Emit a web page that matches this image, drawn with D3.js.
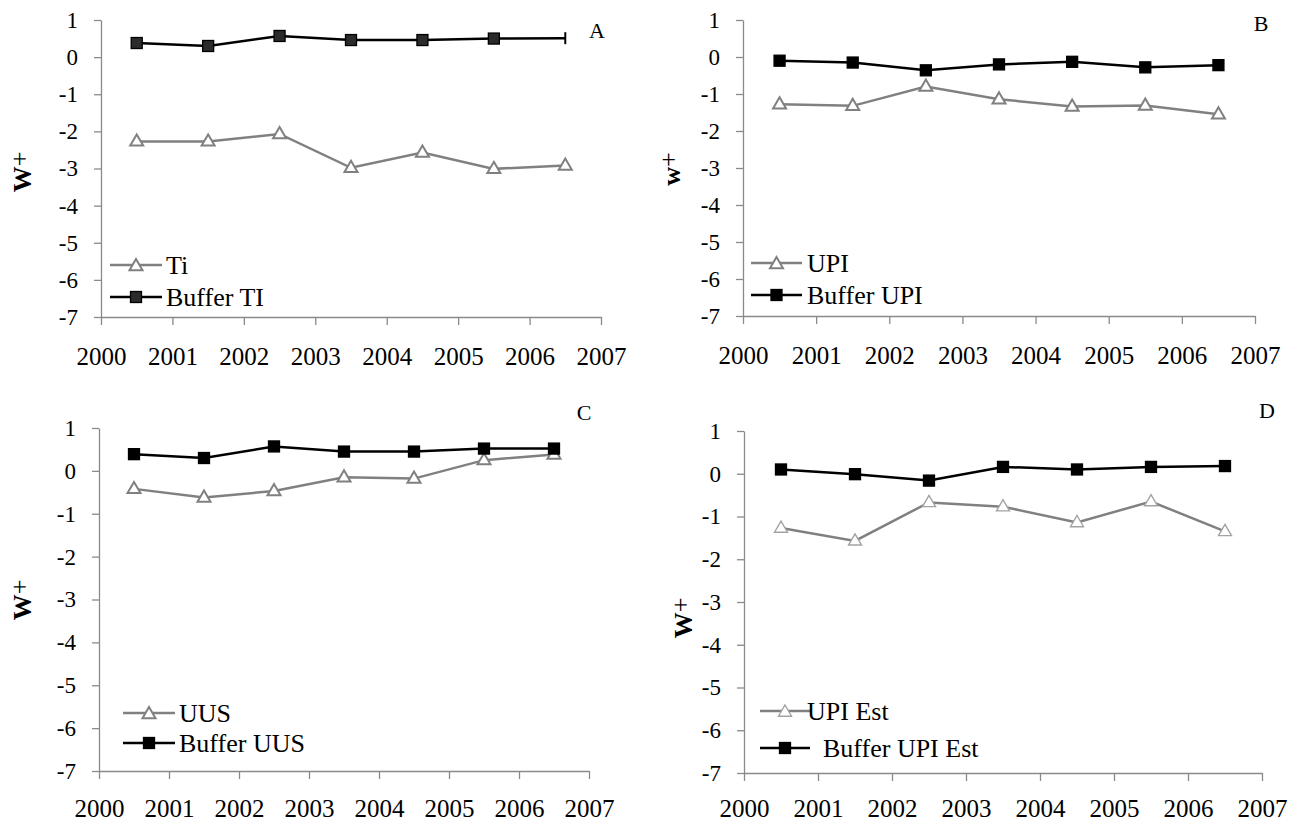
<!DOCTYPE html>
<html><head><meta charset="utf-8">
<script src="https://cdn.jsdelivr.net/npm/d3@7"></script>
<style>
body{margin:0;background:#fff}
svg text{font-family:"Liberation Serif","Times New Roman",serif;fill:#000}
</style>
</head><body>
<svg id="c" width="1305" height="823"></svg>
<script>
// ---------- DATA ----------
const yearTicks = [2000, 2001, 2002, 2003, 2004, 2005, 2006, 2007];
const pointYears = [2000, 2001, 2002, 2003, 2004, 2005, 2006]; // each value plotted mid-year
const yTicks = [1, 0, -1, -2, -3, -4, -5, -6, -7];

const tiValues          = [-2.27, -2.27, -2.07, -2.98, -2.57, -3.01, -2.92];
const bufferTiValues    = [0.38, 0.30, 0.57, 0.46, 0.46, 0.50, 0.51];
const bufferTiMarkers   = [true, true, true, true, true, true, false];

const upiValues         = [-1.28, -1.32, -0.80, -1.14, -1.34, -1.31, -1.55];
const bufferUpiValues   = [-0.10, -0.15, -0.36, -0.20, -0.13, -0.28, -0.22];

const uusValues         = [-0.42, -0.62, -0.47, -0.15, -0.18, 0.25, 0.38];
const bufferUusValues   = [0.39, 0.30, 0.57, 0.45, 0.45, 0.52, 0.52];

const upiEstValues       = [-1.27, -1.57, -0.67, -0.77, -1.14, -0.65, -1.35];
const bufferUpiEstValues = [0.10, -0.01, -0.16, 0.16, 0.10, 0.16, 0.18];

const panelLetters = ["A", "B", "C", "D"];
const yLabels = ["W", "w", "W", "W"];
const legendNames = [["Ti", "Buffer TI"], ["UPI", "Buffer UPI"], ["UUS", "Buffer UUS"], ["UPI Est", "Buffer UPI Est"]];

// ---------- LAYOUT ----------
const layouts = [
  {L:101, R:601, T:20, B:317, pad:22, letter:[597,30], ylab:[31,172], leg:{x0:110,x1:162,tx:[166,166],ty:[265,297]}, squareFill:"#2b2b2b", triStroke:"#808080", triW:2, tri:tiValues, buf:bufferTiValues, bufMarks:bufferTiMarkers},
  {L:743, R:1255, T:20, B:316, pad:22, letter:[1261,23], ylab:[680,169], leg:{x0:751,x1:802,tx:[807,807],ty:[263,295]}, squareFill:"#000", triStroke:"#808080", triW:2, tri:upiValues, buf:bufferUpiValues},
  {L:99, R:589, T:428, B:771, pad:20, letter:[584,412], ylab:[31,600], leg:{x0:123,x1:175,tx:[179,179],ty:[713,743]}, squareFill:"#000", triStroke:"#808080", triW:2, tri:uusValues, buf:bufferUusValues},
  {L:744, R:1262, T:431, B:773, pad:18, letter:[1267,410], ylab:[692,618], leg:{x0:760,x1:810,tx:[807,823],ty:[711,748]}, squareFill:"#000", triStroke:"#a3a3a3", triW:1.4, tri:upiEstValues, buf:bufferUpiEstValues}
];

const svg = d3.select("#c");
const axisColor = "#8a8a8a";
const triPath = "M0,-7L6.5,4.2L-6.5,4.2Z";
const SERIF = '"Liberation Serif","Times New Roman",serif';

function drawTri(g, cx, cy, lay) {
  g.append("path").attr("d", triPath).attr("transform", `translate(${cx},${cy})`)
    .attr("fill", "#fff").attr("stroke", lay.triStroke).attr("stroke-width", lay.triW).attr("stroke-linejoin", "miter");
}
function drawSq(g, cx, cy, lay) {
  g.append("rect").attr("x", cx - 5.5).attr("y", cy - 5.5).attr("width", 11).attr("height", 11)
    .attr("fill", lay.squareFill).attr("stroke", "#000").attr("stroke-width", 1.3);
}

layouts.forEach((lay, i) => {
  const g = svg.append("g");
  const x = d3.scaleLinear().domain([2000, 2007]).range([lay.L, lay.R]);
  const y = d3.scaleLinear().domain([-7, 1]).range([lay.B, lay.T]);

  // x axis
  const xa = g.append("g").attr("transform", `translate(0,${lay.B})`)
    .call(d3.axisBottom(x).tickValues(yearTicks).tickFormat(d => String(d)).tickSize(8).tickSizeOuter(0).tickPadding(lay.pad));
  xa.attr("font-family", null).attr("font-size", null);
  xa.select(".domain").attr("stroke", axisColor).attr("stroke-width", 1.3);
  xa.selectAll(".tick line").attr("stroke", axisColor).attr("stroke-width", 1.3);
  xa.selectAll("text").style("font-size", "25px").style("font-family", SERIF).attr("fill", "#000");

  // y axis
  const ya = g.append("g").attr("transform", `translate(${lay.L},0)`)
    .call(d3.axisLeft(y).tickValues(yTicks).tickFormat(d => String(d)).tickSize(7).tickSizeOuter(0).tickPadding(16));
  ya.attr("font-family", null).attr("font-size", null);
  ya.select(".domain").attr("stroke", axisColor).attr("stroke-width", 1.3);
  ya.selectAll(".tick line").attr("stroke", axisColor).attr("stroke-width", 1.3);
  ya.selectAll("text").style("font-size", "23px").style("font-family", SERIF).attr("fill", "#000");

  const line = d3.line().x((d, j) => x(pointYears[j] + 0.5)).y(d => y(d));

  // grey triangle series
  g.append("path").attr("d", line(lay.tri)).attr("fill", "none").attr("stroke", "#808080").attr("stroke-width", 2.5);
  lay.tri.forEach((v, j) => drawTri(g, x(pointYears[j] + 0.5), y(v), lay));

  // black buffer series
  g.append("path").attr("d", line(lay.buf)).attr("fill", "none").attr("stroke", "#000").attr("stroke-width", 2.5);
  lay.buf.forEach((v, j) => {
    const cx = x(pointYears[j] + 0.5), cy = y(v);
    if (!lay.bufMarks || lay.bufMarks[j]) drawSq(g, cx, cy, lay);
    else g.append("line").attr("x1", cx).attr("x2", cx).attr("y1", cy - 6).attr("y2", cy + 6).attr("stroke", "#000").attr("stroke-width", 2);
  });

  // panel letter
  g.append("text").attr("x", lay.letter[0]).attr("y", lay.letter[1]).attr("text-anchor", "middle")
    .attr("dominant-baseline", "central").style("font-size", "22px").text(panelLetters[i]);

  // y label
  const yl = g.append("text").attr("transform", `translate(${lay.ylab[0]},${lay.ylab[1]}) rotate(-90)`)
    .attr("text-anchor", "middle").style("font-size", "26px").attr("font-weight", "bold");
  yl.append("tspan").text(yLabels[i]);
  yl.append("tspan").attr("dy", -3).attr("font-weight", "normal").text("+");

  // legend
  const lg = lay.leg;
  const mid = (lg.x0 + lg.x1) / 2;
  g.append("line").attr("x1", lg.x0).attr("x2", lg.x1).attr("y1", lg.ty[0]).attr("y2", lg.ty[0]).attr("stroke", "#808080").attr("stroke-width", 2.5);
  drawTri(g, mid, lg.ty[0] + 1, lay);
  g.append("text").attr("x", lg.tx[0]).attr("y", lg.ty[0]).attr("dominant-baseline", "central").style("font-size", "26px").text(legendNames[i][0]);
  g.append("line").attr("x1", lg.x0).attr("x2", lg.x1).attr("y1", lg.ty[1]).attr("y2", lg.ty[1]).attr("stroke", "#000").attr("stroke-width", 2.5);
  drawSq(g, mid, lg.ty[1], lay);
  g.append("text").attr("x", lg.tx[1]).attr("y", lg.ty[1]).attr("dominant-baseline", "central").style("font-size", "26px").text(legendNames[i][1]);
});
</script>
</body></html>
